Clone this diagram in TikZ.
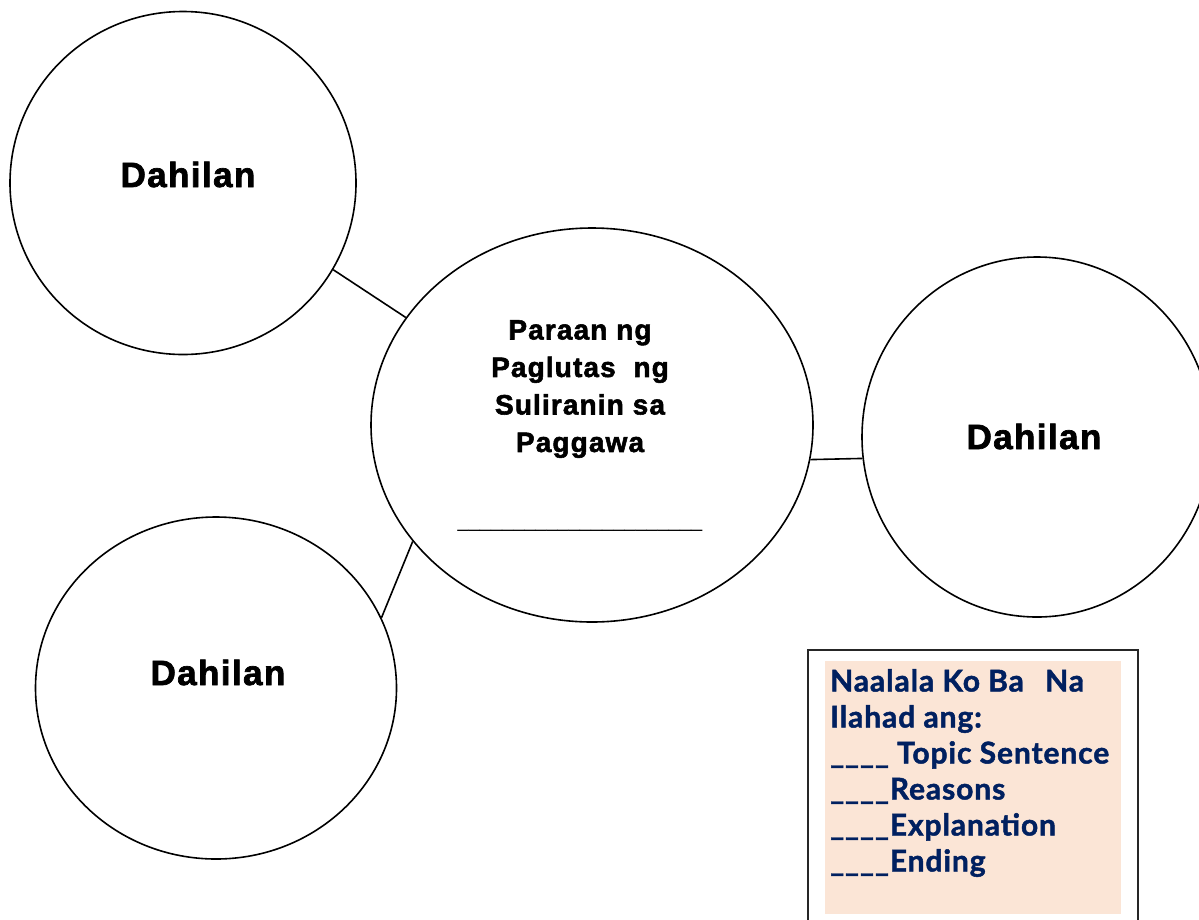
\documentclass[tikz,border=0pt]{standalone}
\usepackage{fontspec}
\setmainfont{Liberation Sans}
\newfontfamily\heavyfont{Liberation Sans}[BoldFeatures={FakeBold=2,LetterSpace=4}]
\newfontfamily\boxfont{Lato}[BoldFeatures={FakeBold=1.5,LetterSpace=3}]
\usetikzlibrary{shapes.geometric}
\definecolor{navy}{HTML}{002060}
\definecolor{peach}{HTML}{FBE5D6}
\begin{document}
\begin{tikzpicture}[x=1pt,y=-1pt,
  bubble/.style={draw=black, line width=1.6pt, ellipse, inner sep=0pt},
  lbl/.style={font=\heavyfont\fontsize{35}{40}\selectfont\bfseries, anchor=base, inner sep=0pt},
  link/.style={draw=black, line width=1.6pt}]
\useasboundingbox (0,0) rectangle (1199,919);
\clip (0,0) rectangle (1199,919);
% bubbles
\node[bubble, minimum width=346pt, minimum height=343pt] (tl) at (183,183) {};
\node[bubble, minimum width=442pt, minimum height=394pt] (c) at (592,425) {};
\node[bubble, minimum width=350pt, minimum height=360pt] (r) at (1037,437) {};
\node[bubble, minimum width=361pt, minimum height=342pt] (bl) at (216,688) {};
% labels
\node[lbl] (ltl) at (188,187) {Dahilan};
\node[lbl] (lr) at (1034,449) {Dahilan};
\node[lbl] (lbl1) at (218,685) {Dahilan};
\node[anchor=north, align=center, inner sep=0pt,
  font=\heavyfont\fontsize{28}{37.5}\selectfont\bfseries] (ct) at (580,320)
  {Paraan ng\\Paglutas\ \ ng\\Suliranin sa\\Paggawa};
\node[anchor=base, inner sep=0pt, font=\fontsize{20}{24}\selectfont] (cu) at (580,527)
  {\_\_\_\_\_\_\_\_\_\_\_\_\_\_\_\_\_\_\_\_\_\_};
% connectors
\draw[link] (tl.-30.3) -- (c.150.7);
\draw[link] (c.213) -- (bl.23.3);
\draw[link] (c.-9.2) -- (r.187.5);
% reminder box
\draw[line width=1.8pt, draw=black!85] (808,930) -- (808,650) -- (1138,650) -- (1138,930);
\fill[peach] (825,661) rectangle (1121,914);
\node[anchor=north west, align=left, inner sep=0pt, text=navy,
  font=\boxfont\fontsize{30}{36}\selectfont\bfseries] (bx) at (830,669)
  {Naalala Ko Ba\ \ \,Na\\Ilahad ang:\\\_\_\_\_ Topic Sentence\\\_\_\_\_Reasons\\\_\_\_\_Explanation\\\_\_\_\_Ending};
\end{tikzpicture}
\end{document}
